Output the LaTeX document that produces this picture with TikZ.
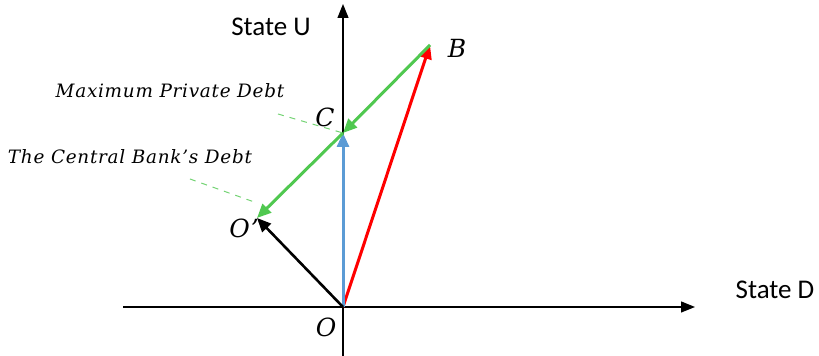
\documentclass[tikz,border=0pt]{standalone}
\usepackage{fontspec}
\setsansfont{Carlito}
\newfontfamily\labelfont{DejaVu Serif}[LetterSpace=4]
\usepackage{amsmath}
\usetikzlibrary{arrows.meta}

\definecolor{arrowred}{RGB}{255,0,0}
\definecolor{arrowgreen}{RGB}{80,200,80}
\definecolor{arrowblue}{RGB}{91,155,213}
\tikzset{
  vec/.style={line width=1.5pt, -{Triangle[length=7pt,width=6pt]}},
  axis/.style={line width=0.6pt, -{Triangle[length=7pt,width=5.5pt]}},
  pointlabel/.style={font=\labelfont\itshape\fontsize{12.5}{15}\selectfont},
  statelabel/.style={font=\sffamily\fontsize{13.5}{16}\selectfont},
  debtlabel/.style={font=\labelfont\itshape\fontsize{9.2}{11}\selectfont},
  pointer/.style={arrowgreen!80, dashed, line width=0.5pt}
}

\begin{document}
\begin{tikzpicture}[x=0.5pt, y=-0.5pt]
\useasboundingbox (0,0) rectangle (819,356);
% axes
\coordinate (O) at (343,307);
\coordinate (xl) at (123,307);
\coordinate (xr) at (695,307);
\coordinate (yb) at (343,356);
\coordinate (yt) at (343,4);
\draw[axis] (xl) -- (xr);
\draw[axis] (yb) -- (yt);
\node[statelabel] (stateU) at (271,27) {State U};
\node[statelabel] (stateD) at (775,290) {State D};
% points
\coordinate (B) at (430,45);
\coordinate (C) at (343,133);
\coordinate (Op) at (257,218);
\node[pointlabel] (labB) at (457,48) {B};
\node[pointlabel] (labC) at (325,117) {C};
\node[pointlabel] (labOp) at (244,228) {O’};
\node[pointlabel] (labO) at (326,327) {O};
% vectors
\draw[vec, arrowred] (O) -- (B);
\draw[vec, arrowblue] (O) -- (C);
\draw[vec, black, line width=1.3pt] (O) -- (Op);
\draw[vec, arrowgreen] (B) -- (C);
\draw[vec, arrowgreen] (C) -- (Op);
% debt labels
\node[debtlabel] (maxdebt) at (170,91) {Maximum Private Debt};
\node[debtlabel] (cbdebt) at (130,157) {The Central Bank’s Debt};
\coordinate (maxend) at (278,114);
\coordinate (cbend) at (190,179);
\coordinate (cbtip) at (257,203);
\draw[pointer] (maxend) -- (C);
\draw[pointer] (cbend) -- (cbtip);
\end{tikzpicture}
\end{document}
